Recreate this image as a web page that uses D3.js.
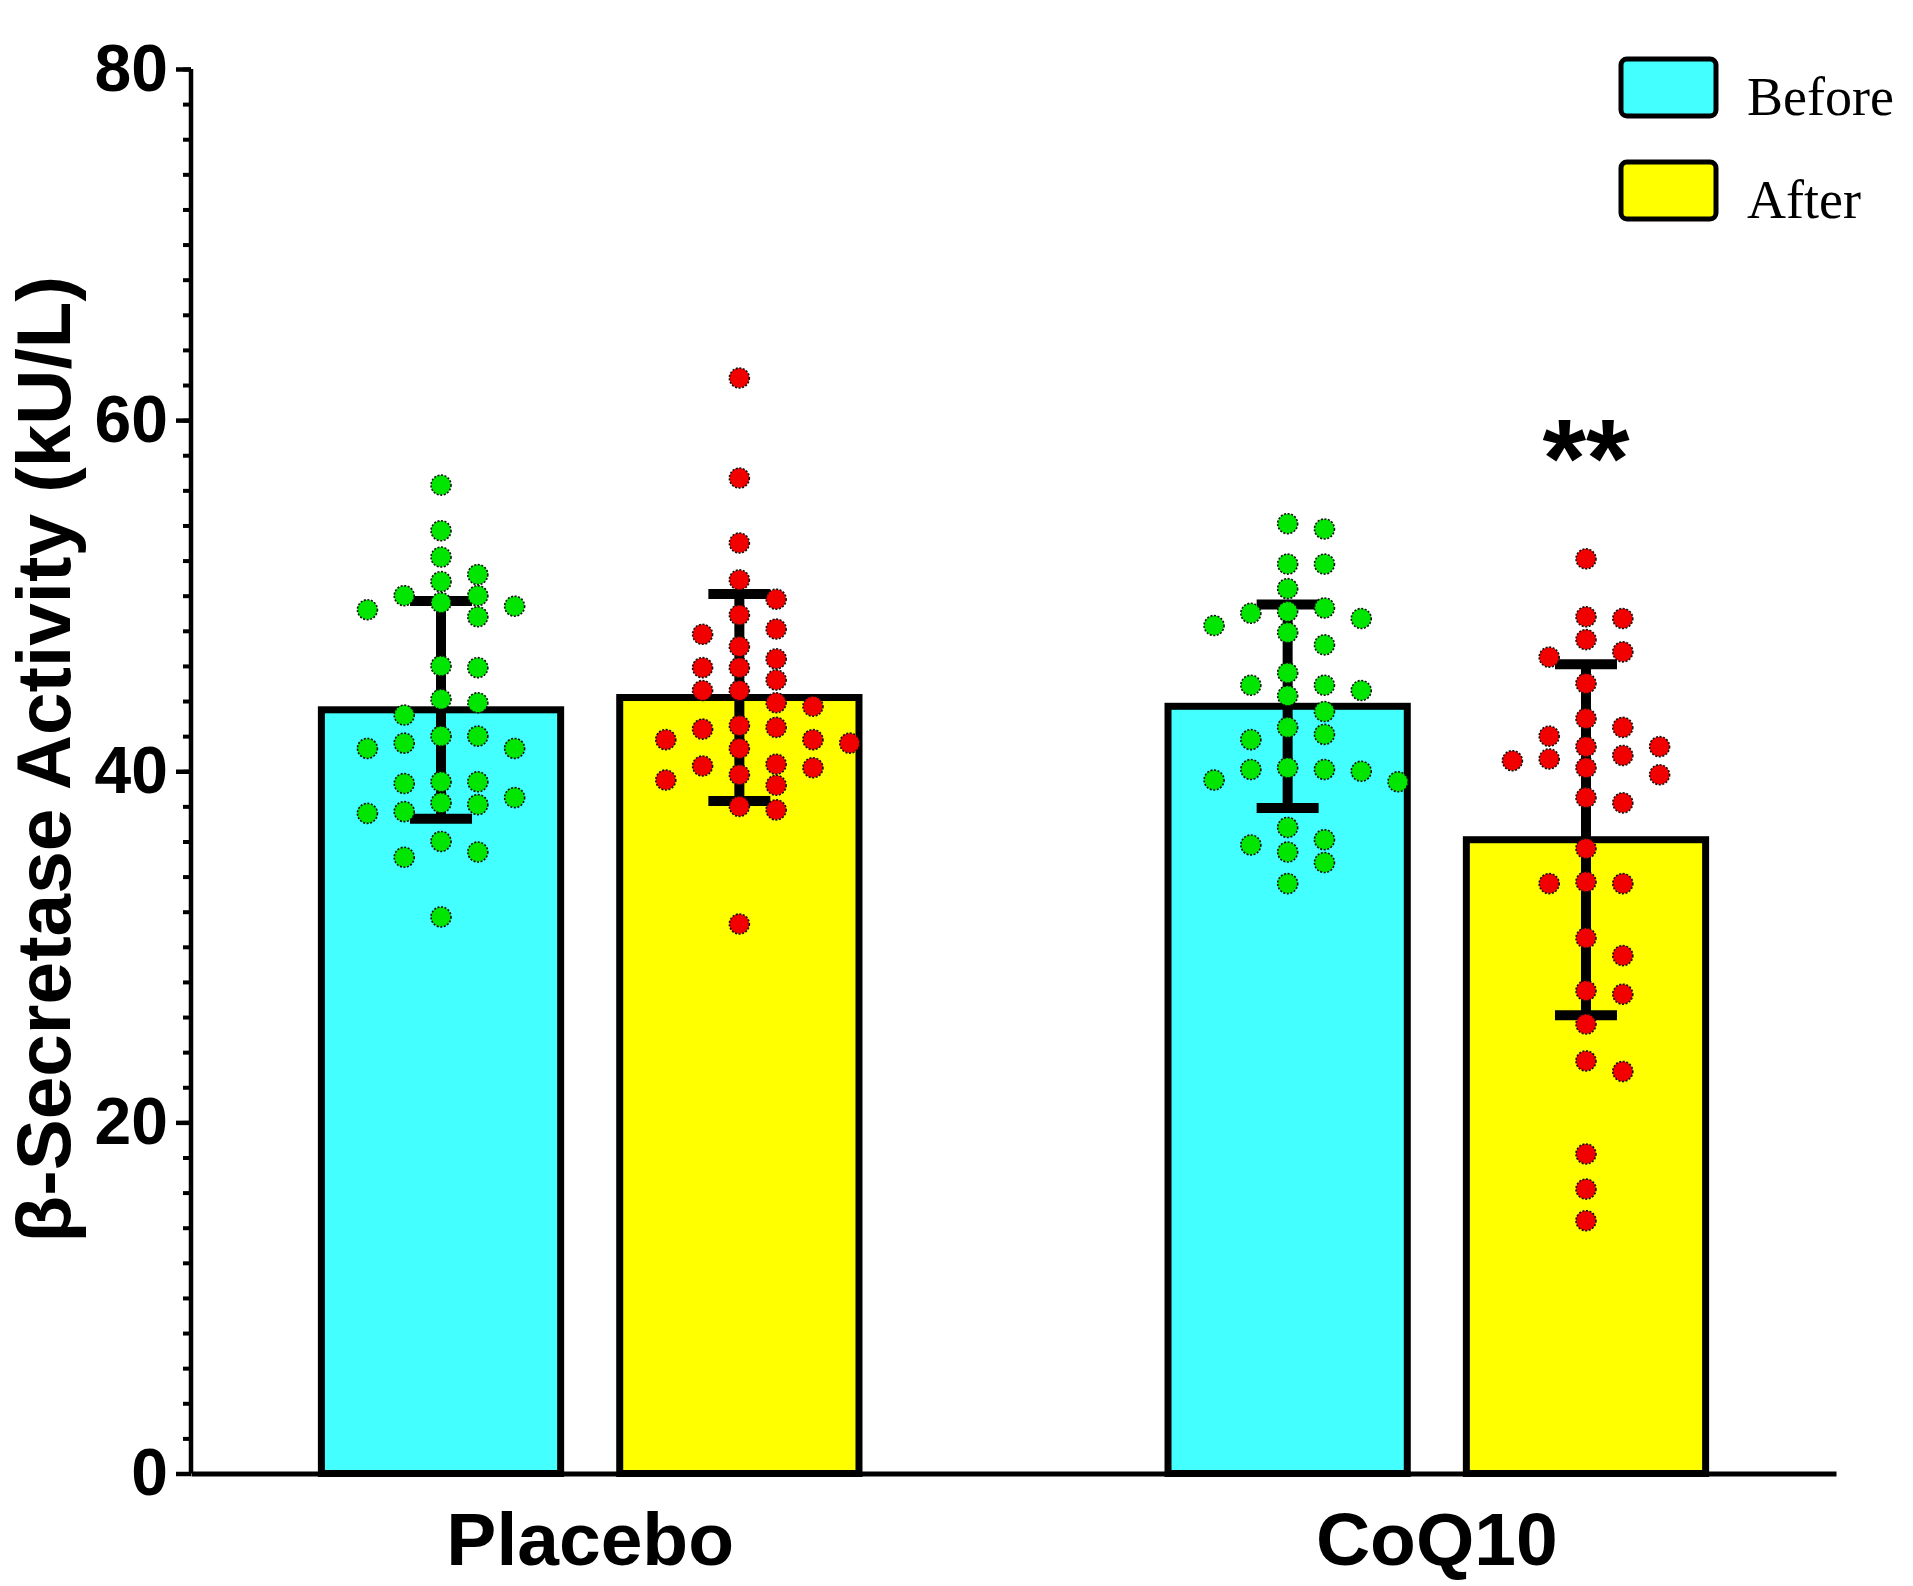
<!DOCTYPE html>
<html>
<head>
<meta charset="utf-8">
<script src="https://cdn.jsdelivr.net/npm/d3@7"></script>
<style>
  body { margin: 0; background: #fff; }
  svg { display: block; }
  .tick text { font-family: "Liberation Sans", Arial, sans-serif; font-weight: bold; }
</style>
</head>
<body>
<div id="chart"></div>
<script>
const width = 1913;
const height = 1586;
const margin = { top: 69, right: 77, bottom: 112.5, left: 191 };

// groups and series
const groups = ["Placebo", "CoQ10"];
const conditions = ["Before", "After"];

// bar means and SD, order: Placebo-Before, Placebo-After, CoQ10-Before, CoQ10-After
const barMeans = [43.5, 44.2, 43.7, 36.1];
const barSD = [6.2, 5.9, 5.8, 10.0];

// individual points
const placeboBefore = [56.3, 53.7, 52.2, 51.2, 50.8, 50.0, 50.0, 49.6, 49.4, 49.2, 48.8, 46.0, 45.9, 44.1, 43.9, 43.2,
    42.0, 42.0, 41.6, 41.3, 41.3, 39.4, 39.4, 39.3, 38.5, 38.2, 38.1, 37.7, 37.6, 36.0, 35.4, 35.1, 31.7];
const placeboAfter = [62.4, 56.7, 53.0, 50.9, 49.8, 48.9, 48.1, 47.8, 47.1, 46.4, 45.9, 45.9, 45.2, 44.6, 44.6, 43.9,
    43.7, 42.6, 42.4, 42.5, 41.8, 41.8, 41.6, 41.3, 40.3, 40.2, 40.4, 39.8, 39.5, 39.2, 38.0, 37.8, 31.3];
const coq10Before = [54.1, 53.8, 51.8, 51.8, 50.4, 49.3, 49.1, 49.0, 48.7, 48.3, 47.9, 47.2, 45.6, 44.9, 44.9, 44.6,
    44.3, 43.4, 42.5, 42.1, 41.8, 40.2, 40.1, 40.1, 40.0, 39.5, 39.4, 36.8, 36.1, 35.8, 35.4, 34.8, 33.6];
const coq10After = [52.1, 48.8, 48.7, 47.5, 46.8, 46.5, 45.0, 43.0, 42.5, 42.0, 41.4, 41.4, 40.9, 40.7, 40.6, 40.2,
    39.8, 38.5, 38.2, 35.6, 33.6, 33.6, 33.7, 30.5, 29.5, 27.5, 27.3, 25.6, 23.5, 22.9, 18.2, 16.2, 14.4];

const yTicks = [0, 20, 40, 60, 80];
const yTitle = "β-Secretase Activity (kU/L)";
const sigLabels = ["", "", "", "**"];

const barColors = { Before: "#44ffff", After: "#ffff00" };
const dotColors = { Before: "#00e600", After: "#f20000" };

const points = [placeboBefore, placeboAfter, coq10Before, coq10After];
const bars = [];
groups.forEach((g, gi) => conditions.forEach((c, ci) => {
    const i = gi * 2 + ci;
    bars.push({ group: g, cond: c, mean: barMeans[i], sd: barSD[i], values: points[i], sig: sigLabels[i] });
}));

const svg = d3.select("#chart").append("svg")
    .attr("width", width)
    .attr("height", height);

const x0 = d3.scaleBand().domain(groups)
    .range([margin.left, width - margin.right])
    .paddingInner(0.365).paddingOuter(0.154);
const x1 = d3.scaleBand().domain(conditions)
    .range([0, x0.bandwidth()])
    .paddingInner(0.198).paddingOuter(0);
const y = d3.scaleLinear().domain([0, 80]).range([height - margin.bottom, margin.top]);

const cx = d => x0(d.group) + x1(d.cond) + x1.bandwidth() / 2;

// bars
svg.append("g").selectAll("rect")
    .data(bars)
    .join("rect")
    .attr("x", d => x0(d.group) + x1(d.cond))
    .attr("y", d => y(d.mean))
    .attr("width", x1.bandwidth())
    .attr("height", d => y(0) - y(d.mean))
    .attr("fill", d => barColors[d.cond])
    .attr("stroke", "#000")
    .attr("stroke-width", 7);

// error bars
const capHalf = 31;
const eb = svg.append("g").attr("stroke", "#000").attr("stroke-width", 10);
bars.forEach(d => {
    eb.append("line").attr("x1", cx(d)).attr("x2", cx(d))
        .attr("y1", y(d.mean - d.sd)).attr("y2", y(d.mean + d.sd));
    [d.mean - d.sd, d.mean + d.sd].forEach(v => {
        eb.append("line").attr("x1", cx(d) - capHalf).attr("x2", cx(d) + capHalf)
            .attr("y1", y(v)).attr("y2", y(v));
    });
});

// simple beeswarm: keep y, shift x on a half-step grid to avoid overlap
const half = 18.4;
const dotR = 10;
function swarm(values) {
    const order = d3.range(values.length).sort((a, b) => values[b] - values[a]);
    const placed = [];
    const off = new Array(values.length);
    order.forEach(i => {
        const py = y(values[i]);
        for (let k = 0; k < 20; k++) {
            const cands = k === 0 ? [0] : [k, -k];
            const hit = cands.find(c => !placed.some(p =>
                Math.abs(p.x - c * half) < 2 * half - 0.5 && Math.abs(p.y - py) < 2 * dotR - 0.5));
            if (hit !== undefined) {
                off[i] = hit * half;
                placed.push({ x: hit * half, y: py });
                break;
            }
        }
    });
    return off;
}

bars.forEach(d => {
    const off = swarm(d.values);
    svg.append("g").selectAll("circle")
        .data(d.values)
        .join("circle")
        .attr("cx", (v, i) => cx(d) + off[i])
        .attr("cy", v => y(v))
        .attr("r", dotR)
        .attr("fill", dotColors[d.cond])
        .attr("stroke", "#111")
        .attr("stroke-width", 1.6)
        .attr("stroke-dasharray", "2,1.6");
});

// significance
svg.append("g").selectAll("text")
    .data(bars.filter(d => d.sig))
    .join("text")
    .attr("x", d => cx(d))
    .attr("y", d => y(d3.max(d.values)) - 62)
    .attr("text-anchor", "middle")
    .style("font-family", "'Liberation Sans', Arial, sans-serif")
    .style("font-weight", "bold")
    .style("font-size", "112px")
    .text(d => d.sig);

// y axis
const yAxis = svg.append("g")
    .attr("transform", `translate(${margin.left},0)`)
    .call(d3.axisLeft(y).tickValues(d3.range(0, 81, 2)).tickSize(8).tickFormat(""));
yAxis.select(".domain").remove();
yAxis.selectAll(".tick line").attr("stroke-width", 4);

const yMajor = svg.append("g")
    .attr("transform", `translate(${margin.left},0)`)
    .call(d3.axisLeft(y).tickValues(yTicks).tickSize(15).tickPadding(8).tickSizeOuter(0));
yMajor.select(".domain").attr("stroke-width", 4.5).attr("d", `M0,${y(80)}V${y(0)}`);
yMajor.selectAll(".tick line").attr("stroke-width", 4.5);
yMajor.selectAll(".tick text").style("font-size", "66px").attr("fill", "#000");

// x axis
const xAxis = svg.append("g")
    .attr("transform", `translate(0,${y(0)})`)
    .call(d3.axisBottom(x0).tickSize(0).tickPadding(38).tickSizeOuter(0));
xAxis.select(".domain").attr("stroke-width", 5);
xAxis.selectAll(".tick text").style("font-size", "75px").attr("fill", "#000");

// y title
svg.append("text")
    .attr("transform", `translate(70,${(margin.top + y(0)) / 2 - 12}) rotate(-90)`)
    .attr("text-anchor", "middle")
    .style("font-family", "'Liberation Sans', Arial, sans-serif")
    .style("font-weight", "bold")
    .style("font-size", "76.5px")
    .text(yTitle);

// legend
const legend = svg.append("g").attr("transform", "translate(1621,59)");
conditions.forEach((c, i) => {
    const row = legend.append("g").attr("transform", `translate(0,${i * 103})`);
    row.append("rect")
        .attr("width", 95).attr("height", 57).attr("rx", 6)
        .attr("fill", barColors[c]).attr("stroke", "#000").attr("stroke-width", 5);
    row.append("text")
        .attr("x", 126).attr("y", 56)
        .style("font-family", "'Liberation Serif', 'Times New Roman', serif")
        .style("font-size", "54px")
        .text(c);
});
</script>
</body>
</html>
